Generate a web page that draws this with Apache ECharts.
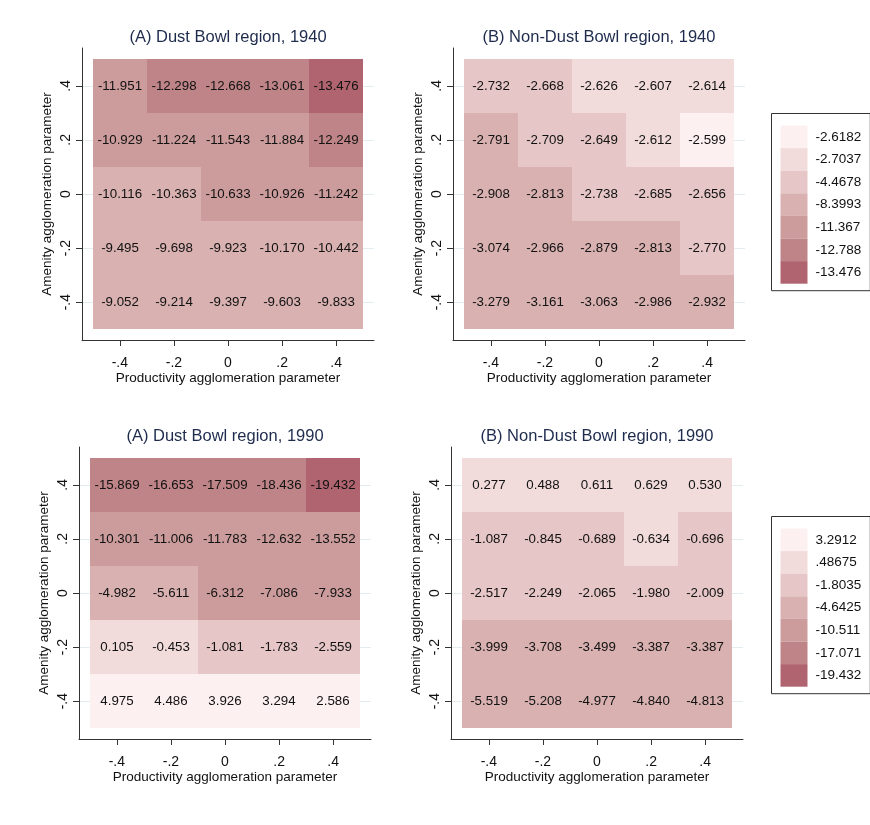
<!DOCTYPE html>
<html>
<head>
<meta charset="utf-8">
<script src="https://cdn.jsdelivr.net/npm/echarts@6/dist/echarts.min.js"></script>
<style>
html,body{margin:0;padding:0;background:#fff;}
#chart{width:870px;height:825px;}
</style>
</head>
<body>
<div id="chart"></div>
<script>
// ---- Data ----
var xValues = [-0.4, -0.2, 0, 0.2, 0.4];           // productivity parameter
var yValues = [0.4, 0.2, 0, -0.2, -0.4];           // amenity parameter (rows, top to bottom)
var tickLabels = {'-0.4': '-.4', '-0.2': '-.2', '0': '0', '0.2': '.2', '0.4': '.4'};

var titles = [
  '(A) Dust Bowl region, 1940',
  '(B) Non-Dust Bowl region, 1940',
  '(A) Dust Bowl region, 1990',
  '(B) Non-Dust Bowl region, 1990'
];

var dustBowl1940 = [
  [-11.951, -12.298, -12.668, -13.061, -13.476],
  [-10.929, -11.224, -11.543, -11.884, -12.249],
  [-10.116, -10.363, -10.633, -10.926, -11.242],
  [-9.495, -9.698, -9.923, -10.170, -10.442],
  [-9.052, -9.214, -9.397, -9.603, -9.833]
];
var nonDustBowl1940 = [
  [-2.732, -2.668, -2.626, -2.607, -2.614],
  [-2.791, -2.709, -2.649, -2.612, -2.599],
  [-2.908, -2.813, -2.738, -2.685, -2.656],
  [-3.074, -2.966, -2.879, -2.813, -2.770],
  [-3.279, -3.161, -3.063, -2.986, -2.932]
];
var dustBowl1990 = [
  [-15.869, -16.653, -17.509, -18.436, -19.432],
  [-10.301, -11.006, -11.783, -12.632, -13.552],
  [-4.982, -5.611, -6.312, -7.086, -7.933],
  [0.105, -0.453, -1.081, -1.783, -2.559],
  [4.975, 4.486, 3.926, 3.294, 2.586]
];
var nonDustBowl1990 = [
  [0.277, 0.488, 0.611, 0.629, 0.530],
  [-1.087, -0.845, -0.689, -0.634, -0.696],
  [-2.517, -2.249, -2.065, -1.980, -2.009],
  [-3.999, -3.708, -3.499, -3.387, -3.387],
  [-5.519, -5.208, -4.977, -4.840, -4.813]
];

// legend labels (top to bottom) and class lower bounds (high to low)
var legendLabels1940 = ['-2.6182', '-2.7037', '-4.4678', '-8.3993', '-11.367', '-12.788', '-13.476'];
var breaks1940 = [-2.605, -2.64, -2.78, -10.5, -12.1, -13.3];
var legendLabels1990 = ['3.2912', '.48675', '-1.8035', '-4.6425', '-10.511', '-17.071', '-19.432'];
var breaks1990 = [1.5, -0.66, -3.0, -6.0, -15.0, -19.0];

var palette = ['#fdf0f0', '#f1dbdb', '#e6c6c6', '#d9b1b1', '#cc9c9d', '#be8487', '#b0646f'];

// ---- Build ----
var panels = [dustBowl1940, nonDustBowl1940, dustBowl1990, nonDustBowl1990];
var gridPos = [
  {left: 82, top: 48},
  {left: 453, top: 48},
  {left: 79, top: 447},
  {left: 451, top: 447}
];
var GW = 292, GH = 292;
var FONT = '"Liberation Sans", Arial, Helvetica, sans-serif';
var halfStep = Math.abs(xValues[1] - xValues[0]) / 2;

function toData(mat) {
  var out = [];
  for (var r = 0; r < yValues.length; r++) {
    for (var c = 0; c < xValues.length; c++) {
      out.push([xValues[c], yValues[r], mat[r][c]]);
    }
  }
  return out;
}
function fmtTick(v) {
  var k = String(Math.round(v * 10) / 10);
  return tickLabels[k] !== undefined ? tickLabels[k] : '';
}
function makePieces(breaks, labels) {
  // class i (0 = highest values): [breaks[i], breaks[i-1])
  var pieces = [];
  for (var i = 0; i < labels.length; i++) {
    var p = {label: labels[i], color: palette[i]};
    if (i < breaks.length) p.gte = breaks[i];
    if (i > 0) p.lt = breaks[i - 1];
    pieces.push(p);
  }
  return pieces;
}

var grids = [], xAxes = [], yAxes = [], series = [], graphics = [];
panels.forEach(function (mat, i) {
  grids.push({left: gridPos[i].left, top: gridPos[i].top, width: GW, height: GH});
  xAxes.push({
    type: 'value', gridIndex: i, min: -0.54, max: 0.54,
    name: 'Productivity agglomeration parameter', nameLocation: 'middle', nameGap: 30,
    nameTextStyle: {fontSize: 13.5, color: '#111', fontFamily: FONT},
    axisLine: {show: true, onZero: false, lineStyle: {color: '#333', width: 1}},
    axisTick: {show: true, length: 6, customValues: xValues, lineStyle: {color: '#333'}},
    axisLabel: {customValues: xValues, formatter: fmtTick, fontSize: 14, color: '#111', margin: 16, fontFamily: FONT},
    splitLine: {show: false}
  });
  yAxes.push({
    type: 'value', gridIndex: i, min: -0.54, max: 0.54,
    name: 'Amenity agglomeration parameter', nameLocation: 'middle', nameGap: 28,
    nameTextStyle: {fontSize: 13.5, color: '#111', fontFamily: FONT},
    axisLine: {show: true, onZero: false, lineStyle: {color: '#333', width: 1}},
    axisTick: {show: true, length: 6, customValues: yValues, lineStyle: {color: '#333'}},
    axisLabel: {customValues: yValues, formatter: fmtTick, fontSize: 14, color: '#111', margin: 9, rotate: 90, fontFamily: FONT},
    splitLine: {show: true, lineStyle: {color: '#e3ecee', width: 1}}
  });
  series.push({
    type: 'custom', xAxisIndex: i, yAxisIndex: i,
    data: toData(mat),
    renderItem: function (params, api) {
      var x = api.value(0), y = api.value(1), v = api.value(2);
      var p1 = api.coord([x - halfStep, y + halfStep]);
      var p2 = api.coord([x + halfStep, y - halfStep]);
      var x0 = Math.round(p1[0]), y0 = Math.round(p1[1]);
      var x1 = Math.round(p2[0]), y1 = Math.round(p2[1]);
      return {
        type: 'group',
        children: [
          {type: 'rect', shape: {x: x0, y: y0, width: x1 - x0, height: y1 - y0},
            style: {fill: api.visual('color'), stroke: null}},
          {type: 'text', style: {text: v.toFixed(3), x: (x0 + x1) / 2, y: (y0 + y1) / 2,
            align: 'center', verticalAlign: 'middle', fill: '#111', fontSize: 13.3, fontFamily: FONT}}
        ]
      };
    }
  });
  graphics.push({
    type: 'text', x: gridPos[i].left + GW / 2, y: gridPos[i].top - 11,
    style: {text: titles[i], align: 'center', verticalAlign: 'middle', fill: '#1e2b4d', fontSize: 16.5, fontFamily: FONT}
  });
});

function vm(seriesIdx, top, breaks, labels) {
  return {
    type: 'piecewise', seriesIndex: seriesIdx, dimension: 2,
    pieces: makePieces(breaks, labels),
    orient: 'vertical', left: 771, top: top, align: 'left',
    itemWidth: 27, itemHeight: 22.6, itemGap: 0, itemSymbol: 'rect', textGap: 8,
    selectedMode: false, hoverLink: false,
    textStyle: {fontSize: 13.5, color: '#111', fontFamily: FONT},
    borderColor: '#333', borderWidth: 1, padding: [12, 9, 7, 9], backgroundColor: '#fff'
  };
}

var chart = echarts.init(document.getElementById('chart'), null, {renderer: 'canvas'});
chart.setOption({
  backgroundColor: '#fff',
  animation: false,
  grid: grids,
  xAxis: xAxes,
  yAxis: yAxes,
  visualMap: [
    vm([0, 1], 113, breaks1940, legendLabels1940),
    vm([2, 3], 516, breaks1990, legendLabels1990)
  ],
  graphic: graphics,
  series: series
});
</script>
</body>
</html>
